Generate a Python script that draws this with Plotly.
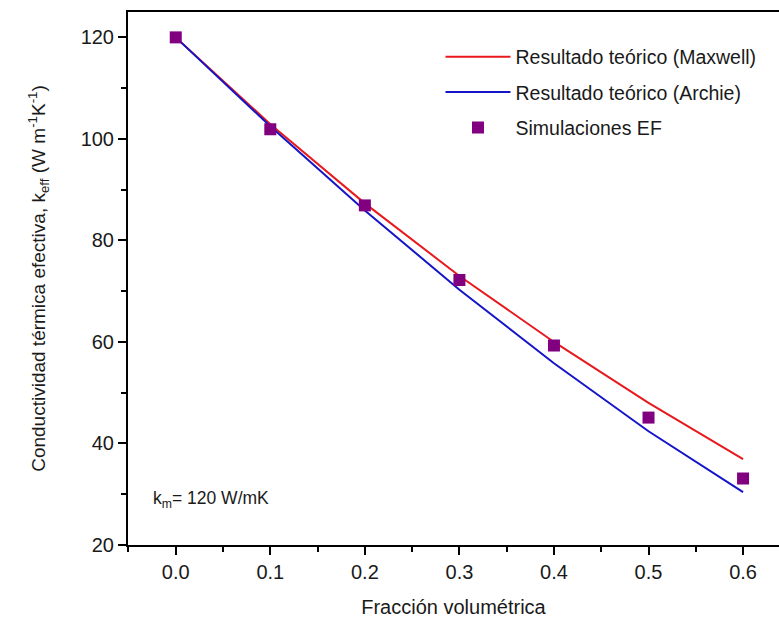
import plotly.graph_objects as go

# Volume fraction of inclusions
fraccion = [0.0, 0.1, 0.2, 0.3, 0.4, 0.5, 0.6]

# Effective conductivity (W m^-1 K^-1)
k_maxwell = [120.0, 102.9, 87.3, 73.0, 60.0, 48.0, 36.9]
k_archie = [120.0, 102.5, 85.9, 70.3, 55.8, 42.4, 30.4]
k_simulaciones = [120.0, 101.9, 86.9, 72.2, 59.3, 45.1, 33.1]

x_ticks = [0.0, 0.1, 0.2, 0.3, 0.4, 0.5, 0.6]
y_ticks = [20, 40, 60, 80, 100, 120]

FONT = "Arial, Liberation Sans, sans-serif"
TEXT_COLOR = "#1a1a1a"

fig = go.Figure()
fig.add_trace(go.Scatter(
    x=fraccion, y=k_maxwell, mode="lines",
    name="Resultado teórico (Maxwell)",
    line=dict(color="#e8191d", width=2), legendgroup="a",
))
fig.add_trace(go.Scatter(
    x=fraccion, y=k_archie, mode="lines",
    name="Resultado teórico (Archie)",
    line=dict(color="#1515c8", width=2), legendgroup="b",
))
fig.add_trace(go.Scatter(
    x=fraccion, y=k_simulaciones, mode="markers",
    name="Simulaciones EF",
    marker=dict(symbol="square", size=12, color="#800080"), legendgroup="c",
))

axis_common = dict(
    showline=True, linecolor="black", linewidth=2,
    ticks="outside", ticklen=8, tickwidth=2, tickcolor="black",
    showgrid=False, zeroline=False,
    tickfont=dict(family=FONT, size=20, color=TEXT_COLOR),
)

fig.update_xaxes(
    **axis_common,
    range=[-0.0505, 0.638],
    tickvals=x_ticks, ticktext=[f"{v:.1f}" for v in x_ticks],
    mirror=True,
    minor=dict(ticks="outside", ticklen=5, tickwidth=2, tickcolor="black", dtick=0.05, tick0=0.0),
    title=dict(text="Fracción volumétrica", font=dict(family=FONT, size=20, color=TEXT_COLOR), standoff=18),
)
fig.update_yaxes(
    **axis_common,
    range=[20, 125],
    tickvals=y_ticks,
    minor=dict(ticks="outside", ticklen=5, tickwidth=2, tickcolor="black", dtick=10, tick0=0),
    title=dict(
        text="Conductividad térmica efectiva, k<sub>eff</sub> (W m<sup>-1</sup>K<sup>-1</sup>)",
        font=dict(family=FONT, size=19, color=TEXT_COLOR), standoff=30,
    ),
)

fig.add_annotation(
    xref="paper", yref="paper", x=0.036, y=0.085, xanchor="left", yanchor="middle",
    text="k<sub>m</sub>= 120 W/mK", showarrow=False,
    font=dict(family=FONT, size=17.5, color=TEXT_COLOR),
)

fig.update_layout(
    width=779, height=626,
    margin=dict(l=128, r=0, t=12, b=81),
    paper_bgcolor="white", plot_bgcolor="white",
    font=dict(family=FONT, color=TEXT_COLOR),
    legend=dict(
        x=0.48, y=0.952, xanchor="left", yanchor="top",
        font=dict(family=FONT, size=19.5, color=TEXT_COLOR),
        itemwidth=65, tracegroupgap=7, traceorder="grouped",
        bgcolor="rgba(0,0,0,0)",
    ),
)

fig.write_html("out.html")
